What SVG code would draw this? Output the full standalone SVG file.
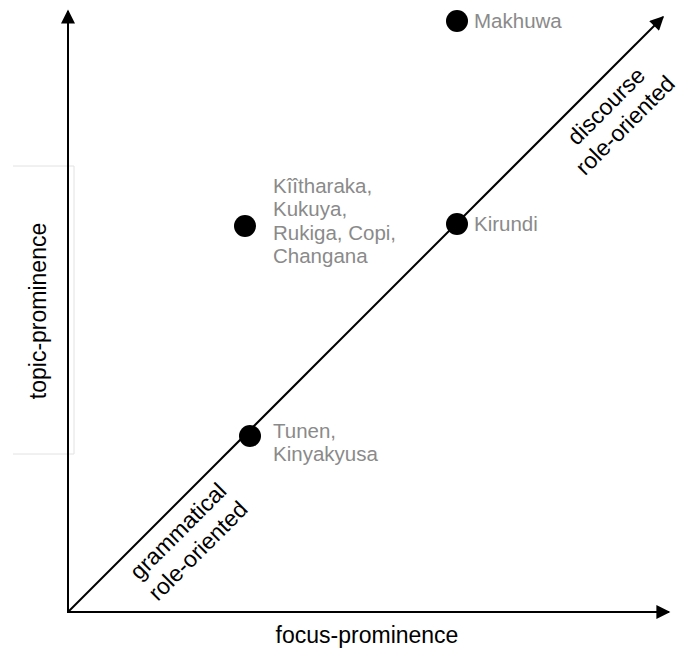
<svg xmlns="http://www.w3.org/2000/svg" width="680" height="651" viewBox="0 0 680 651">
<style>
.axis{stroke:#000;stroke-width:2;fill:none}
.dot{fill:#000}
.lbl{font-family:"Liberation Sans",Arial,sans-serif;font-size:20.5px;fill:#8a8a8a}
.ax{font-family:"Liberation Sans",Arial,sans-serif;font-size:23px;fill:#000}
</style>
<defs>
<marker id="arr" viewBox="0 0 10 10" refX="9" refY="5" markerWidth="8" markerHeight="7" orient="auto" markerUnits="strokeWidth">
<path d="M0,0 L10,5 L0,10 z" fill="#000"/>
</marker>
</defs>
<rect width="680" height="651" fill="#fff"/>
<path d="M13,166 H74 V454 H13" fill="none" stroke="#e2e2e2" stroke-width="1"/>
<g id="connectors">
<line class="axis" x1="68" y1="613" x2="68" y2="11" marker-end="url(#arr)"/>
<line class="axis" x1="67" y1="612" x2="669" y2="612" marker-end="url(#arr)"/>
<line class="axis" x1="68" y1="612" x2="663" y2="17" marker-end="url(#arr)"/>
</g>
<g id="axis-y"><text class="ax" transform="translate(46,311) rotate(-90)" text-anchor="middle">topic-prominence</text></g>
<g id="axis-x"><text class="ax" x="367" y="643" text-anchor="middle">focus-prominence</text></g>
<g id="diag-top"><text class="ax" transform="translate(606,106) rotate(-45)" text-anchor="middle"><tspan x="0" y="8">discourse</tspan><tspan x="0" y="35">role-oriented</tspan></text></g>
<g id="diag-bottom"><text class="ax" transform="translate(178,531) rotate(-45)" text-anchor="middle"><tspan x="0" y="8">grammatical</tspan><tspan x="0" y="36">role-oriented</tspan></text></g>
<g id="makhuwa"><circle class="dot" cx="457" cy="21" r="11"/><text class="lbl" x="474" y="28">Makhuwa</text></g>
<g id="kiitharaka"><circle class="dot" cx="245" cy="226" r="11"/><text class="lbl"><tspan x="273" y="193">Kîîtharaka,</tspan><tspan x="273" y="216">Kukuya,</tspan><tspan x="273" y="240">Rukiga, Copi,</tspan><tspan x="273" y="263">Changana</tspan></text></g>
<g id="kirundi"><circle class="dot" cx="457" cy="224" r="11"/><text class="lbl" x="474" y="231">Kirundi</text></g>
<g id="tunen"><circle class="dot" cx="250" cy="436" r="11"/><text class="lbl"><tspan x="273" y="438">Tunen,</tspan><tspan x="273" y="461">Kinyakyusa</tspan></text></g>
</svg>
